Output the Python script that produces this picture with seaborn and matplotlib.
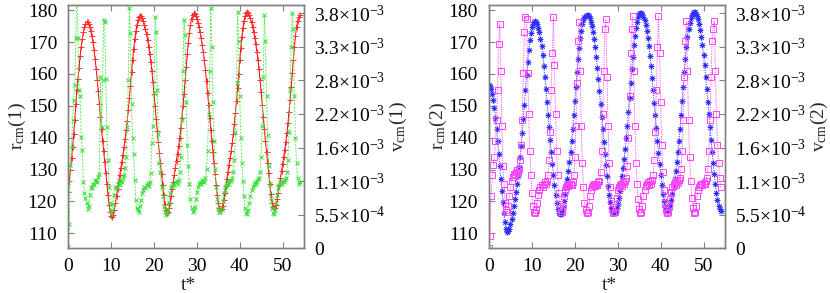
import numpy as np
import matplotlib
matplotlib.use("Agg")
import matplotlib.pyplot as plt
import seaborn as sns

# time grid (t*)
t = np.arange(0, 54.001, 0.25)

# r_cm(1)  (left panel, left axis)
r1 = [123, 126.5, 130, 133.5, 137, 141, 145.5, 150.5, 155, 158.5, 162, 165.5, 168.5, 171, 173, 174.8, 175.8, 176.3,
      176.2, 175.6, 174.6, 173.3, 171.8, 170.0, 167.6, 164.8, 161.6, 158.2, 154.5, 150.5, 146.4, 142.6, 139.1, 135.8,
      132.5, 129, 125.5, 122, 119, 116.8, 115.5, 115.2,
      115.8, 117.3, 119.4, 121.8, 124, 126.2, 128.3, 130.4, 132.5, 134.7, 137, 139.5, 142.3, 145.3, 148.7, 152.3,
      156.3, 160.5, 164.4, 167.8, 170.8, 173.3, 175.3, 176.9, 177.9, 178.3,
      178.2, 177.6, 176.6, 175.3, 174, 172.5, 170.6, 168.5, 166.3, 163.8, 160.8, 157.4, 153.6, 149.8, 145.9, 142.1,
      138.6, 135.2, 131.9, 128.6, 125.2, 121.9, 119.2, 117.3, 116.5,
      116.7, 117.8, 119.6, 121.8, 124, 126.2, 128.4, 130.6, 132.8, 135, 137.4, 140, 142.9, 146.2, 149.8, 153.8, 158,
      162.2, 166.2, 169.8, 172.8, 175.3, 177.2, 178.5, 179,
      178.9, 178.3, 177.3, 176, 174.6, 173, 171.2, 169.1, 166.8, 164.2, 161.2, 157.8, 154, 150.1, 146.2, 142.4, 138.8,
      135.4, 132, 128.6, 125.2, 122, 119.4, 117.8, 117.3,
      117.5, 118.6, 120.4, 122.6, 124.8, 127, 129.2, 131.4, 133.6, 135.9, 138.4, 141.2, 144.3, 147.8, 151.6, 155.7,
      160, 164.2, 168.1, 171.6, 174.5, 176.7, 178.2, 179, 179.3,
      179.1, 178.5, 177.5, 176.2, 174.8, 173.2, 171.4, 169.3, 167, 164.4, 161.4, 158, 154.2, 150.3, 146.4, 142.6,
      139, 135.6, 132.2, 128.8, 125.4, 122.2, 119.6, 118.2, 117.8,
      118, 119, 120.7, 122.8, 125, 127.2, 129.4, 131.6, 133.8, 136.1, 138.6, 141.4, 144.5, 148, 151.8, 155.9, 160.2,
      164.4, 168.3, 171.8, 174.6, 176.6, 177.8, 178.4]

# v_cm(1) in units of 1e-3 (left panel, right axis)
v1 = [0.02, 0.4, 1.36, 1.66, 2.1, 2.43, 2.67, 3.44, 4.5, 3.44, 2.59, 2.5, 1.83, 1.61, 1.09, 0.9, 0.82, 0.75,
      0.65, 0.7, 0.88, 0.98, 1.0, 1.06, 1.04, 1.1, 1.12, 1.08, 1.16, 1.22, 2.81, 1.99, 2.75, 3.74, 3.7, 2.78, 1.99,
      1.45, 1.01, 0.74, 0.57, 0.63,
      0.72, 0.88, 1.0, 0.98, 1.06, 1.1, 1.04, 1.12, 1.08, 1.15, 1.2, 1.32, 1.5, 1.99, 2.75, 3.93, 3.52, 2.37, 1.8,
      1.55, 1.12, 0.79, 0.66, 0.63, 0.6, 0.7,
      0.79, 0.9, 0.96, 1.0, 0.98, 1.04, 1.07, 1.02, 1.08, 1.23, 1.72, 2.0, 2.54, 3.79, 3.55, 2.59, 1.88, 1.39, 1.25,
      1.01, 0.85, 0.68, 0.6, 0.55, 0.58,
      0.62, 0.75, 0.9, 1.0, 1.02, 1.06, 1.04, 1.08, 1.1, 1.06, 1.12, 1.25, 1.5, 2.1, 2.9, 3.74, 3.5, 2.4, 1.7, 1.35,
      1.05, 0.8, 0.66, 0.6, 0.62,
      0.68, 0.8, 0.92, 1.0, 1.05, 1.08, 1.06, 1.1, 1.12, 1.08, 1.15, 1.3, 1.6, 2.2, 2.9, 3.93, 3.3, 2.4, 1.75, 1.3,
      1.0, 0.8, 0.65, 0.6, 0.6,
      0.65, 0.78, 0.9, 0.96, 1.02, 1.06, 1.1, 1.05, 1.12, 1.1, 1.15, 1.25, 1.45, 1.9, 2.7, 3.87, 3.4, 2.5, 1.8, 1.4,
      1.1, 0.85, 0.66, 0.58, 0.57,
      0.62, 0.75, 0.86, 0.95, 1.0, 1.04, 1.08, 1.06, 1.1, 1.13, 1.15, 1.25, 1.5, 2.0, 2.8, 3.82, 3.4, 2.5, 1.85, 1.35,
      1.05, 0.82, 0.66, 0.58, 0.57,
      0.62, 0.75, 0.88, 0.98, 1.04, 1.08, 1.06, 1.1, 1.08, 1.12, 1.15, 1.25, 1.45, 1.9, 2.6, 3.3, 3.85, 3.6, 2.5, 1.8,
      1.4, 1.15, 1.05, 1.08]

# r_cm(2)  (right panel, left axis)
r2 = [156.5, 156.2, 155.3, 153.8, 151.8, 149.3, 146.3, 142.8, 139, 135, 131, 127, 123.3, 119.8, 116.5, 113.5, 111.2,
      110.3, 110.6, 111.5, 112.8, 114.5, 116.4, 118.5, 120.7, 123, 125.4, 128, 130.8, 134, 137.5, 141.5, 145.8, 150.3,
      155, 159.5, 163.7, 167.4, 170.5, 172.9, 174.6, 175.7, 176.3, 176.5,
      176.3, 175.6, 174.5, 173, 171, 168.6, 165.8, 162.6, 159, 155.2, 151.2, 147.2, 143.2, 139.3, 135.5, 131.8, 128.3,
      125, 122, 119.5, 117.6, 116.4, 116,
      116.2, 117, 118.4, 120.2, 122.3, 124.6, 127, 129.6, 132.4, 135.5, 139, 142.8, 147, 151.5, 156, 160.5, 164.6,
      168.2, 171.2, 173.6, 175.5, 176.9, 177.8, 178.3, 178.5, 178.4,
      178.1, 177.4, 176.3, 174.9, 173.1, 170.9, 168.3, 165.3, 162, 158.4, 154.6, 150.6, 146.6, 142.6, 138.7, 134.9,
      131.3, 127.9, 124.8, 122, 119.7, 118, 116.9, 116.4, 116.4,
      116.8, 117.8, 119.3, 121.2, 123.3, 125.6, 128, 130.6, 133.4, 136.5, 140, 143.8, 148, 152.5, 157, 161.4, 165.4,
      169, 172, 174.5, 176.4, 177.8, 178.7, 179.1, 179.1,
      178.7, 177.9, 176.8, 175.3, 173.5, 171.3, 168.7, 165.7, 162.4, 158.8, 155, 151, 147, 143, 139.1, 135.3, 131.7,
      128.3, 125.2, 122.4, 120.1, 118.4, 117.3, 116.9, 117,
      117.6, 118.8, 120.4, 122.4, 124.6, 127, 129.6, 132.4, 135.5, 139, 142.8, 147, 151.5, 156, 160.5, 164.6, 168.3,
      171.5, 174.1, 176.1, 177.6, 178.6, 179.2, 179.4, 179.3,
      178.9, 178.2, 177.1, 175.6, 173.8, 171.6, 169, 166, 162.7, 159.1, 155.3, 151.3, 147.3, 143.3, 139.4, 135.6, 132,
      128.6, 125.5, 122.7, 120.4, 118.7, 117.6, 117.1]

# v_cm(2) in units of 1e-3 (right panel, right axis)
v2 = [0.0, 0.2, 0.85, 1.2, 1.36, 1.5, 1.75, 2.1, 2.6, 3.35, 3.68, 2.9, 2.0, 1.35, 1.05, 0.75, 0.62, 0.6,
      0.7, 0.85, 1.0, 1.1, 1.17, 1.22, 1.2, 1.25, 1.28, 1.24, 1.3, 1.45, 1.7, 2.1, 2.87, 3.55, 3.79, 3.75, 2.87, 2.2,
      1.6, 1.2, 0.9, 0.7,
      0.6, 0.58, 0.62, 0.75, 0.88, 0.95, 1.0, 1.03, 1.0, 1.05, 1.08, 1.05, 1.1, 1.2, 1.45, 1.9, 2.6, 3.2, 3.79, 3.0,
      2.2, 1.6, 1.2, 0.9, 0.72, 0.62,
      0.6, 0.7, 0.85, 0.95, 1.0, 1.04, 1.02, 1.05, 1.06, 1.03, 1.08, 1.2, 1.5, 2.0, 2.7, 3.4, 3.7, 2.9, 2.0, 1.4, 1.0,
      0.75, 0.62, 0.58, 0.6,
      0.7, 0.85, 0.95, 1.0, 1.03, 1.05, 1.02, 1.06, 1.04, 1.08, 1.1, 1.25, 1.6, 2.2, 2.9, 3.6, 3.75, 2.8, 2.0, 1.4,
      1.0, 0.78, 0.64, 0.58, 0.6,
      0.68, 0.82, 0.95, 1.0, 1.04, 1.06, 1.02, 1.08, 1.05, 1.1, 1.15, 1.35, 1.8, 2.5, 3.2, 3.6, 3.8, 2.9, 2.0, 1.4,
      1.05, 0.8, 0.65, 0.58, 0.6,
      0.7, 0.85, 0.96, 1.02, 1.05, 1.08, 1.04, 1.1, 1.06, 1.12, 1.2, 1.45, 1.9, 2.6, 3.3, 3.8, 3.2, 2.4, 1.7, 1.25,
      0.95, 0.75, 0.63, 0.58, 0.6,
      0.68, 0.8, 0.92, 1.0, 1.05, 1.08, 1.04, 1.1, 1.07, 1.12, 1.15, 1.3, 1.6, 2.1, 2.8, 3.4, 3.72, 2.9, 2.1, 1.5,
      1.1, 0.82, 0.66, 0.58, 0.6,
      0.7, 0.85, 0.95, 1.0, 1.04, 1.06, 1.03, 1.07, 1.05, 1.1, 1.15, 1.3, 1.6, 2.1, 2.8, 3.4, 3.6, 3.72, 2.9, 2.2,
      1.7, 1.4, 1.15, 1.0]

x_ticks = [0, 10, 20, 30, 40, 50]
r_ticks = [110, 120, 130, 140, 150, 160, 170, 180]
v_ticks = [0, 0.55, 1.1, 1.65, 2.2, 2.75, 3.3, 3.85]
v_labels = ["0", "5.5\u00d710$^{-4}$", "1.1\u00d710$^{-3}$", "1.6\u00d710$^{-3}$", "2.2\u00d710$^{-3}$",
            "2.8\u00d710$^{-3}$", "3.3\u00d710$^{-3}$", "3.8\u00d710$^{-3}$"]

sns.set_theme(style="white")
plt.rcParams["font.family"] = ["Liberation Serif", "DejaVu Serif"]
plt.rcParams["mathtext.fontset"] = "custom"
plt.rcParams["mathtext.rm"] = "Liberation Serif"
plt.rcParams["mathtext.it"] = "Liberation Serif:italic"
plt.rcParams["axes.unicode_minus"] = False

FS = 14
GRAY = "#808080"

fig = plt.figure(figsize=(8.3, 2.93), dpi=100)
W, H = 830.0, 293.0
bottom = (H - 248.3) / H
height = 243.6 / H
axL = fig.add_axes([68.3 / W, bottom, 235.7 / W, height])
axR = fig.add_axes([489.0 / W, bottom, 236.0 / W, height])


def style_axes(ax, ax2, idx):
    ax.set_xlim(0, 55)
    ax.set_ylim(105.3, 181.7)
    ax2.set_ylim(0, 3.99)
    ax.set_xticks(x_ticks)
    ax.set_yticks(r_ticks)
    ax2.set_yticks(v_ticks)
    ax2.set_yticklabels(v_labels)
    for a in (ax, ax2):
        for s in a.spines.values():
            s.set_color(GRAY)
            s.set_linewidth(1.0)
    ax.tick_params(axis="x", direction="in", length=4, width=0.8, color=GRAY, top=True, bottom=True,
                   labelsize=FS, pad=7, labelcolor="black")
    ax.tick_params(axis="y", direction="in", length=4, width=0.8, color=GRAY, left=True, right=False,
                   labelsize=FS, pad=8, labelcolor="black")
    ax2.tick_params(axis="y", direction="in", length=4, width=0.8, color=GRAY, right=True, left=False,
                    labelsize=FS, pad=7.5, labelcolor="black")
    ax.set_xlabel("t*", fontsize=FS)
    ax.xaxis.set_label_coords(0.51, -0.152)
    ax.xaxis.label.set(va="center", ha="center")
    ax.set_ylabel("r$_{\\rm cm}$(%d)" % idx, fontsize=FS)
    ax.yaxis.label.set(va="center", ha="center", rotation_mode="anchor")
    ax.yaxis.set_label_coords(-0.215, 0.5)
    ax2.set_ylabel("v$_{\\rm cm}$(%d)" % idx, fontsize=FS)
    ax2.yaxis.label.set(va="center", ha="center", rotation=90, rotation_mode="anchor")
    ax2.yaxis.set_label_coords(1.40, 0.5)
    ax.grid(False)
    ax2.grid(False)


# Left panel
axL2 = axL.twinx()
sns.lineplot(x=t, y=r1, ax=axL, color="#ff0000", lw=0.7, marker="+", markersize=4.5,
             mew=0.7, mec="#ff3030", errorbar=None, zorder=3)
sns.lineplot(x=t, y=v1, ax=axL2, color="#55ee55", lw=0.7, ls=(0, (2, 1.5)), marker="x", markersize=3.5,
             mew=0.7, mec="#33dd33", errorbar=None)
style_axes(axL, axL2, 1)

# Right panel
axR2 = axR.twinx()
sns.lineplot(x=t, y=r2, ax=axR, color="#3a3aff", lw=0.7, ls=(0, (1.2, 1.2)), marker=(8, 2, 0), markersize=4,
             mew=0.6, mec="#3030ff", errorbar=None, zorder=3)
sns.lineplot(x=t, y=v2, ax=axR2, color="#ff55ff", lw=0.7, ls=(0, (1.2, 1.2)), marker="s", markersize=4,
             mew=0.7, mec="#ff44ff", mfc="none", errorbar=None)
style_axes(axR, axR2, 2)

fig.savefig("out.png", dpi=100)
